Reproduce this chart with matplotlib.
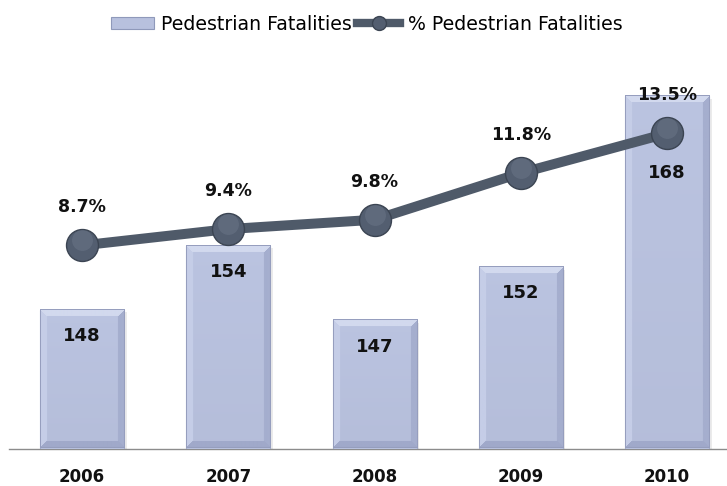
import numpy as np
import matplotlib
matplotlib.use("Agg")
import matplotlib.pyplot as plt
import matplotlib.transforms as mtransforms
from matplotlib.patches import Patch
from matplotlib.lines import Line2D

years = ["2006", "2007", "2008", "2009", "2010"]
fatalities = [148, 154, 147, 152, 168]
pct = [8.7, 9.4, 9.8, 11.8, 13.5]
pct_labels = ["8.7%", "9.4%", "9.8%", "11.8%", "13.5%"]
bar_label_offsets = [-19, -19, -19, -19, -55]  # points below bar top

W, H = 727, 486
fig = plt.figure(figsize=(W / 100, H / 100), dpi=100)
ax = fig.add_axes([9 / W, 1 - 448.5 / H, 718 / W, 373.5 / H])
ax2 = ax.twinx()
ax2.set_position(ax.get_position())

x = np.arange(len(years))
bw = 0.575
bars = ax.bar(x, fatalities, width=bw, color="#b8c1de", edgecolor="#a3acca",
              linewidth=0.8, zorder=2)
ax.set_xlim(-0.5, 4.41)
ax.set_ylim(135, 170)
ax2.set_ylim(0, 16)

# bevel effect for bars
base = np.array([184, 193, 222]) / 255
top_c = np.array([210, 217, 238]) / 255
left_c = np.array([197, 205, 231]) / 255
right_c = np.array([165, 174, 206]) / 255
bot_c = np.array([160, 169, 202]) / 255


def bevel(wpx, hpx, b=7):
    h, w = max(int(round(hpx)), 2), max(int(round(wpx)), 2)
    yy, xx = np.mgrid[0:h, 0:w]
    d = np.stack([yy, h - 1 - yy, xx, w - 1 - xx])
    idx = np.argmin(d, axis=0)
    mn = np.min(d, axis=0)
    img = np.empty((h, w, 3))
    t = (yy / max(h - 1, 1))[..., None]
    img[:] = base * (1 - 0.03 * t) + 0.01
    cols = [top_c, bot_c, left_c, right_c]
    for k, c in enumerate(cols):
        m = (idx == k) & (mn < b)
        img[m] = c
    edge = mn < 1
    img[edge] = np.array([150, 158, 190]) / 255
    return np.clip(img, 0, 1)


fig.canvas.draw()
for r in bars:
    x0, y0 = r.get_x(), ax.get_ylim()[0]
    x1, y1 = r.get_x() + r.get_width(), r.get_height()
    p0 = ax.transData.transform((x0, y0))
    p1 = ax.transData.transform((x1, y1))
    img = bevel(abs(p1[0] - p0[0]), abs(p1[1] - p0[1]))
    ax.imshow(img, extent=(x0, x1, y0, y1), origin="upper", aspect="auto",
              zorder=2.5, interpolation="bilinear")
    ax.bar(r.get_x() + r.get_width() / 2, r.get_height() - y0, bottom=y0,
           width=r.get_width(), color="#000000", alpha=0.08, zorder=1.5,
           transform=mtransforms.offset_copy(ax.transData, fig=fig, x=2.5, y=-2.5, units="dots"))
ax.set_xlim(-0.5, 4.41)
ax.set_ylim(135, 170)

for xi, v, off in zip(x, fatalities, bar_label_offsets):
    ax.annotate(str(v), (xi, v), xytext=(0, off), textcoords="offset points",
                ha="center", va="center", fontsize=13, fontweight="bold",
                color="#111111", zorder=4)

line_color = "#4f5a69"
ax2.plot(x, pct, color=line_color, linewidth=7.2, solid_capstyle="butt", zorder=3)
ax2.plot(x, pct, linestyle="none", marker="o", markersize=23,
         markerfacecolor="#535e70", markeredgecolor="#3b4452", markeredgewidth=1.0, zorder=4)
hl = mtransforms.offset_copy(ax2.transData, fig=fig, x=0, y=5, units="dots")
ax2.plot(x, pct, linestyle="none", marker="o", markersize=15, transform=hl,
         markerfacecolor="#7d889b", markeredgewidth=0, alpha=0.3, zorder=4.1)
for xi, v, lab in zip(x, pct, pct_labels):
    ax2.annotate(lab, (xi, v), xytext=(0, 27.5), textcoords="offset points",
                 ha="center", va="center", fontsize=12.5, fontweight="bold",
                 color="#111111", zorder=5)

for a in (ax, ax2):
    for s in ("top", "right", "left", "bottom"):
        a.spines[s].set_visible(False)
    a.set_yticks([])
ax.spines["bottom"].set_visible(True)
ax.spines["bottom"].set_color("#8c8c8c")
ax.spines["bottom"].set_linewidth(1.0)
ax.spines["bottom"].set_zorder(1)
ax.set_xticks(x)
ax.set_xticklabels(years, fontsize=12, fontweight="bold", color="#111111")
ax.tick_params(axis="x", length=0, pad=14)
ax2.tick_params(axis="x", length=0, labelbottom=False, labeltop=False)

handles = [
    Patch(facecolor="#b8c1de", edgecolor="#8f99ba", linewidth=0.8, label="Pedestrian Fatalities"),
    Line2D([0], [0], color=line_color, linewidth=6, marker="o", markersize=10,
           markerfacecolor="#535e70", markeredgecolor="#3b4452", label="% Pedestrian Fatalities"),
]
fig.legend(handles=handles, loc="center left", bbox_to_anchor=(111 / W, 1 - 24 / H),
           ncol=2, frameon=False, fontsize=13.6, handlelength=2.25, handleheight=0.65,
           handletextpad=0.4, columnspacing=0.3, borderpad=0, borderaxespad=0)

fig.savefig("out.png", dpi=100, facecolor="white")
